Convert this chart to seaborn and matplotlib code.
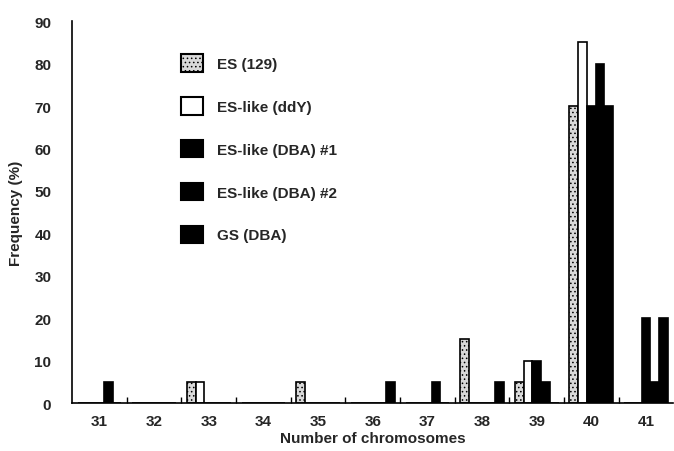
import pandas as pd
import matplotlib
matplotlib.use('Agg')
import matplotlib.pyplot as plt
import seaborn as sns
from matplotlib.ticker import FixedLocator

chromosomes = [31, 32, 33, 34, 35, 36, 37, 38, 39, 40, 41]
lines = ['ES (129)', 'ES-like (ddY)', 'ES-like (DBA) #1', 'ES-like (DBA) #2', 'GS (DBA)']

es_129 = [0, 0, 5, 0, 5, 0, 0, 15, 5, 70, 0]
es_ddy = [0, 0, 5, 0, 0, 0, 0, 0, 10, 85, 0]
es_dba1 = [0, 0, 0, 0, 0, 0, 0, 0, 10, 70, 20]
es_dba2 = [5, 0, 0, 0, 0, 0, 5, 0, 5, 80, 5]
gs_dba = [0, 0, 0, 0, 0, 5, 0, 5, 0, 70, 20]

series = [es_129, es_ddy, es_dba1, es_dba2, gs_dba]
rows = []
for name, vals in zip(lines, series):
    for c, v in zip(chromosomes, vals):
        rows.append({'chrom': str(c), 'line': name, 'freq': v})
df = pd.DataFrame(rows)

sns.set_style('white')
plt.rcParams['font.family'] = ['Liberation Sans', 'DejaVu Sans']
plt.rcParams['font.weight'] = 'bold'
plt.rcParams['hatch.linewidth'] = 0.6

colors = ['#d9d9d9', 'white', 'black', 'black', 'black']

fig = plt.figure(figsize=(6.74, 4.52), dpi=100)
ax = fig.add_axes([0.107, 0.106, 0.892, 0.845])

sns.barplot(data=df, x='chrom', y='freq', hue='line', hue_order=lines,
            palette=colors, width=0.8, edgecolor='black', linewidth=1.2,
            saturation=1, ax=ax, legend=False)

# stippled fill for the 129 line
for p in ax.containers[0].patches:
    p.set_hatch('....')

ax.set_xlim(-0.5, 10.5)
ax.set_ylim(0, 90)
ax.set_yticks(range(0, 91, 10))
ax.tick_params(axis='y', direction='out', length=3, width=1, color='black',
               labelsize=11, pad=12)
ax.tick_params(axis='x', which='major', length=0, labelsize=11, pad=8)
ax.xaxis.set_minor_locator(FixedLocator([i + 0.5 for i in range(10)]))
ax.tick_params(axis='x', which='minor', direction='in', length=4, width=1,
               color='black', bottom=True)
for lbl in ax.get_xticklabels() + ax.get_yticklabels():
    lbl.set_fontweight('bold')

for s in ['top', 'right']:
    ax.spines[s].set_visible(False)
for s in ['left', 'bottom']:
    ax.spines[s].set_color('black')
    ax.spines[s].set_linewidth(1.2)

ax.set_xlabel('Number of chromosomes', fontsize=11, fontweight='bold', labelpad=2)
ax.set_ylabel('Frequency (%)', fontsize=11, fontweight='bold', labelpad=8)

handles = []
for c, name in zip(colors, lines):
    h = matplotlib.patches.Patch(facecolor=c, edgecolor='black', linewidth=1.5,
                                 hatch='....' if name == 'ES (129)' else None, label=name)
    handles.append(h)
ax.legend(handles=handles, loc='upper left', bbox_to_anchor=(0.268, 0.878),
          bbox_transform=fig.transFigure, frameon=False, borderpad=0,
          borderaxespad=0, handlelength=1.45, handleheight=1.4,
          labelspacing=1.65, handletextpad=0.9,
          prop={'size': 11, 'weight': 'bold'})

fig.savefig('out.png', dpi=100)
